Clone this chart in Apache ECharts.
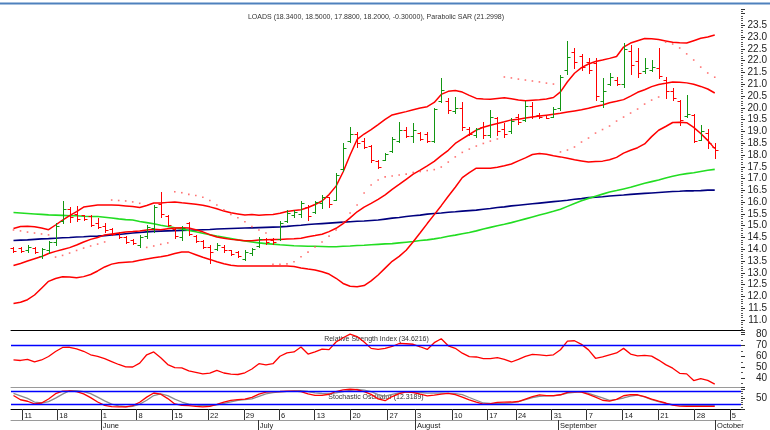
<!DOCTYPE html>
<html><head><meta charset="utf-8">
<script src="https://cdn.jsdelivr.net/npm/echarts@6/dist/echarts.min.js"></script>
<style>html,body{margin:0;padding:0;background:#fff}#c{width:770px;height:430px}</style>
</head><body><div id="c"></div>
<script>
// ---------- data ----------
const opens = [14.05,14.05,13.95,14.05,13.72,13.95,14.30,15.20,15.70,15.50,
15.45,15.40,15.10,15.00,14.85,14.70,14.50,14.40,14.20,14.55,
14.90,15.90,15.40,14.85,14.50,15.10,14.55,14.35,14.10,14.00,
14.10,13.95,13.90,13.60,13.85,14.15,14.45,14.40,14.45,15.20,
15.45,15.50,15.80,15.60,15.95,16.20,16.10,17.40,18.60,18.90,
18.60,18.40,17.75,17.80,18.15,18.60,19.05,18.80,18.95,18.90,
18.60,20.30,20.30,19.85,20.00,19.10,18.85,19.20,18.85,19.55,
19.10,19.00,19.60,19.50,20.10,19.70,19.68,19.62,20.00,21.60,
22.35,22.20,21.95,21.90,20.30,21.00,21.20,21.00,22.40,22.00,
21.55,21.60,21.70,21.20,20.70,20.30,19.65,19.70,18.65,18.95,
18.34];
const highs = [14.09,14.09,14.18,14.10,14.05,14.35,15.10,16.05,15.80,15.85,
15.45,15.45,15.33,15.10,14.90,14.73,14.56,14.43,14.60,15.03,
15.88,16.43,15.45,14.90,14.99,15.16,14.60,14.40,14.18,14.26,
14.18,13.97,13.92,13.97,14.05,14.50,14.48,14.48,15.20,15.67,
15.67,16.05,15.88,16.05,16.30,16.22,17.24,18.50,19.19,18.98,
18.72,18.42,17.79,18.08,18.76,19.40,19.19,19.36,18.98,18.98,
20.00,21.27,20.42,20.46,20.25,19.19,19.15,19.40,19.91,19.61,
19.36,19.55,19.75,20.30,20.25,19.77,19.70,20.04,21.40,22.84,
22.54,22.30,22.10,22.12,21.27,21.48,21.30,22.75,22.65,22.54,
22.10,22.05,22.53,21.30,20.85,20.33,20.55,19.75,19.27,19.10,
18.50];
const lows = [13.88,13.88,13.88,13.84,13.65,13.85,14.20,15.10,15.15,15.20,
15.25,15.00,14.90,14.73,14.60,14.48,14.26,14.22,14.10,14.48,
14.73,15.37,15.00,14.48,14.39,14.60,14.30,14.05,13.42,13.97,
13.88,13.76,13.67,13.55,13.76,14.10,14.22,14.22,14.39,15.16,
15.37,15.37,15.24,15.54,15.75,15.80,16.09,17.32,18.55,18.34,
18.30,17.70,17.45,17.79,18.13,18.55,18.76,18.55,18.64,18.55,
18.55,20.25,19.78,19.78,19.06,18.85,18.76,18.72,18.76,18.85,
18.76,18.95,19.30,19.45,19.55,19.55,19.55,19.60,19.90,21.45,
21.69,21.60,21.50,20.33,20.04,20.97,20.95,20.90,21.45,21.30,
21.50,21.55,21.25,20.40,20.33,19.27,19.62,18.55,18.64,18.30,
17.88];
const closes = [13.93,13.92,14.10,13.90,14.00,14.30,15.00,15.70,15.35,15.30,
15.30,15.05,14.95,14.80,14.65,14.50,14.30,14.25,14.50,14.95,
15.80,15.50,15.05,14.55,14.90,14.65,14.35,14.10,13.90,14.20,
13.95,13.80,13.72,13.90,14.00,14.45,14.30,14.30,15.10,15.55,
15.60,15.95,15.40,16.00,16.20,15.90,17.15,18.30,18.90,18.50,
18.35,17.80,17.50,18.05,18.70,19.05,18.80,19.05,18.70,18.60,
19.95,20.75,19.90,20.00,19.20,18.90,19.10,18.85,19.60,19.00,
18.90,19.45,19.40,20.10,19.65,19.60,19.58,19.95,21.30,22.15,
21.95,21.75,21.60,20.50,20.70,21.32,21.00,22.50,21.80,21.50,
21.70,21.75,21.35,20.70,20.40,19.50,19.75,18.60,19.00,18.50,
18.20];
const sar = [14.82,14.78,14.73,14.69,14.65,14.61,13.67,13.74,13.84,13.95,
14.05,14.14,14.22,14.31,16.09,16.07,16.05,16.01,15.95,14.08,
14.14,14.21,14.27,16.44,16.40,16.33,16.28,16.21,16.07,15.88,
15.67,15.48,15.34,15.17,14.96,14.82,14.69,13.36,13.36,13.38,
13.47,13.68,13.88,14.10,14.31,14.56,14.82,15.16,15.54,15.88,
16.39,16.73,16.94,17.07,17.11,17.15,17.19,17.26,17.30,17.34,
17.38,17.49,17.70,17.92,18.11,18.25,18.38,18.49,18.59,18.68,
21.31,21.27,21.22,21.18,21.14,21.10,21.05,21.01,18.13,18.21,
18.34,18.55,18.72,18.93,19.08,19.23,19.44,19.61,19.78,19.95,
20.16,20.33,20.46,22.79,22.71,22.54,22.29,22.03,21.73,21.48,
21.2998];
const bbUpper = [14.88,14.97,14.98,14.96,14.90,14.83,15.03,15.24,15.43,15.60,
15.79,15.84,15.88,15.88,15.88,15.87,15.84,15.81,15.77,15.86,
15.96,15.96,15.99,16.01,15.97,15.94,15.91,15.87,15.80,15.72,
15.62,15.55,15.50,15.45,15.48,15.44,15.46,15.48,15.53,15.60,
15.65,15.68,15.77,15.90,16.05,16.32,16.68,17.28,18.00,18.66,
18.89,19.08,19.29,19.51,19.70,19.77,19.84,19.92,19.99,20.05,
20.23,20.57,20.70,20.74,20.67,20.53,20.40,20.38,20.37,20.40,
20.43,20.39,20.33,20.30,20.32,20.34,20.38,20.44,20.68,21.11,
21.47,21.71,21.86,21.97,22.03,22.10,22.18,22.58,22.75,22.85,
22.94,22.93,22.90,22.84,22.78,22.76,22.75,22.85,22.95,23.01,
23.09];
const bbMiddle = [13.31,13.40,13.50,13.60,13.69,13.82,13.91,13.99,14.07,14.18,
14.31,14.42,14.50,14.61,14.65,14.69,14.73,14.75,14.78,14.82,
14.85,14.83,14.87,14.90,14.91,14.90,14.83,14.74,14.62,14.52,
14.47,14.42,14.39,14.36,14.36,14.39,14.40,14.41,14.42,14.44,
14.45,14.47,14.53,14.58,14.64,14.75,14.89,15.09,15.33,15.59,
15.79,15.95,16.12,16.31,16.54,16.75,16.97,17.19,17.36,17.54,
17.73,17.97,18.20,18.49,18.68,18.87,19.06,19.18,19.26,19.34,
19.41,19.49,19.52,19.57,19.61,19.65,19.69,19.73,19.77,19.82,
19.87,19.92,19.98,20.06,20.12,20.22,20.28,20.35,20.50,20.66,
20.77,20.90,20.99,21.04,21.10,21.09,21.06,21.00,20.91,20.80,
20.63];
const bbLower = [11.70,11.75,11.86,12.06,12.35,12.64,12.76,12.83,12.82,12.79,
12.84,12.93,13.08,13.25,13.37,13.43,13.45,13.47,13.53,13.59,
13.64,13.68,13.74,13.82,13.88,13.88,13.77,13.66,13.57,13.47,
13.39,13.32,13.29,13.29,13.29,13.29,13.29,13.29,13.29,13.29,
13.27,13.21,13.16,13.12,13.05,12.95,12.77,12.55,12.43,12.41,
12.46,12.66,12.91,13.20,13.49,13.70,13.96,14.32,14.70,15.09,
15.47,15.85,16.25,16.63,17.04,17.25,17.44,17.44,17.44,17.48,
17.54,17.62,17.75,17.88,18.02,18.06,18.03,17.97,17.92,17.86,
17.80,17.75,17.70,17.72,17.74,17.80,17.90,18.08,18.20,18.31,
18.47,18.78,19.05,19.21,19.38,19.39,19.37,19.17,18.91,18.62,
18.27];
const maGreen = [15.56,15.54,15.52,15.50,15.48,15.46,15.45,15.44,15.42,15.42,
15.40,15.39,15.39,15.36,15.33,15.29,15.26,15.24,15.18,15.13,
15.08,15.02,14.97,14.91,14.86,14.80,14.74,14.68,14.62,14.56,
14.51,14.46,14.40,14.35,14.31,14.27,14.24,14.22,14.19,14.17,
14.15,14.14,14.13,14.13,14.12,14.11,14.11,14.13,14.14,14.16,
14.17,14.19,14.21,14.23,14.24,14.27,14.30,14.33,14.37,14.40,
14.44,14.49,14.55,14.60,14.66,14.71,14.78,14.86,14.93,15.00,
15.06,15.13,15.21,15.29,15.37,15.45,15.53,15.61,15.70,15.82,
15.94,16.06,16.16,16.25,16.34,16.43,16.49,16.56,16.63,16.72,
16.80,16.87,16.94,17.02,17.10,17.16,17.21,17.25,17.30,17.35,
17.39];
const maNavy = [14.37,14.39,14.40,14.42,14.44,14.45,14.47,14.49,14.50,14.52,
14.53,14.55,14.56,14.58,14.61,14.63,14.66,14.69,14.71,14.74,
14.76,14.77,14.78,14.79,14.80,14.81,14.82,14.83,14.84,14.86,
14.87,14.88,14.89,14.90,14.91,14.92,14.93,14.94,14.95,14.97,
15.00,15.02,15.05,15.07,15.09,15.11,15.13,15.15,15.17,15.19,
15.20,15.22,15.24,15.28,15.32,15.35,15.39,15.42,15.45,15.49,
15.52,15.54,15.57,15.59,15.62,15.64,15.66,15.70,15.73,15.77,
15.80,15.84,15.87,15.90,15.93,15.96,15.99,16.02,16.05,16.08,
16.12,16.15,16.19,16.21,16.23,16.26,16.28,16.30,16.33,16.35,
16.37,16.39,16.41,16.43,16.45,16.46,16.48,16.48,16.49,16.51,
16.51];
const rsi = [56.88,56.24,57.25,54.86,56.70,59.91,64.50,68.17,68.35,66.97,
64.68,61.47,59.91,57.89,55.23,52.57,50.37,50.28,53.76,61.47,
64.04,58.72,52.48,49.72,49.54,46.70,45.41,43.94,44.68,47.25,
44.77,43.76,43.39,44.95,48.44,53.30,52.20,53.30,60.09,63.21,
64.04,68.62,62.11,64.13,66.70,66.15,73.21,77.06,80.46,78.17,
73.12,67.34,66.51,67.34,69.08,71.83,71.56,71.10,68.81,66.33,
72.57,76.15,69.72,67.43,62.94,59.72,59.45,57.98,57.98,58.90,
57.25,54.86,57.34,60.09,61.83,61.38,60.73,61.47,66.06,74.04,
74.31,71.01,65.96,58.26,59.45,61.28,63.12,67.34,62.11,60.46,
60.92,60.28,56.61,52.48,49.17,44.50,43.94,37.80,39.63,37.98,
34.6216];
const stochK = [61.7,42.4,35.6,23.5,27.5,46.0,70.3,82.0,82.9,79.7,
69.4,52.3,32.0,16.3,10.9,9.5,9.5,15.4,31.1,54.5,
73.4,68.0,47.8,23.0,16.7,15.8,12.2,9.5,12.2,21.2,
32.0,39.2,42.8,45.1,53.6,68.0,77.0,79.7,80.2,81.5,
82.0,80.2,69.4,62.6,62.2,67.6,80.2,87.4,90.5,88.3,
79.7,67.1,46.0,37.9,57.2,70.7,78.8,75.7,68.0,60.4,
63.5,68.0,71.6,66.2,54.5,41.5,31.1,22.1,24.8,30.2,
31.1,32.0,34.3,45.5,56.8,64.4,61.7,61.7,65.3,76.1,
79.7,77.5,66.7,54.1,40.1,36.1,44.2,60.8,66.2,65.3,
56.8,45.5,35.6,27.5,17.6,13.1,12.2,12.2,12.2,12.2,
12.3189];
const stochD = [71.2,60.4,48.7,32.0,27.5,33.8,50.0,68.0,83.8,84.2,
79.7,70.3,54.5,37.0,22.1,14.0,10.4,12.2,22.6,40.1,
61.7,69.8,61.3,45.5,32.0,22.6,17.6,15.4,15.4,19.4,
25.7,32.9,40.1,42.8,46.4,57.7,68.9,74.8,78.4,81.1,
82.9,83.8,80.2,73.9,71.2,69.4,73.9,79.3,85.1,90.1,
86.5,79.3,65.8,59.5,67.6,73.9,77.5,78.4,75.7,72.5,
72.5,72.5,72.1,70.3,65.8,52.7,40.1,27.5,25.7,24.4,
25.7,28.0,33.4,42.8,52.7,57.7,60.4,60.4,64.9,73.0,
76.6,79.3,71.6,61.7,50.9,39.7,44.6,50.5,59.5,63.5,
55.9,43.3,34.3,25.3,20.3,18.1,15.8,15.4,15.4,15.4,
15.4];
const rsiLevels = [70];
const stochLevels = [80, 20];
// date axis: tick labels and their positions (in bar-index units)
const weekLabels = ['11','18','1','8','15','22','29','6','13','20','27','3','10','17','24','31','7','14','21','28','5'];
const weekPos = [1.2,6.2,12.4,17.5,22.6,27.7,32.8,37.8,42.9,48.0,53.3,57.2,62.5,67.5,71.6,76.7,81.7,86.8,91.9,97.1,102.1];
const monthLabels = ['June','July','August','September','October'];
const monthPos = [12.4,34.8,57.2,77.6,100.0];
const symbol = 'LOADS';

// ---------- layout helpers ----------
function hasFont(name){
  const c=document.createElement('canvas').getContext('2d');
  c.font='20px monospace'; const w1=c.measureText('LOADS 18.3400 abc').width;
  c.font='20px "'+name+'", monospace'; const w2=c.measureText('LOADS 18.3400 abc').width;
  return Math.abs(w1-w2)>0.1;
}
const NARROW = hasFont('Liberation Sans Narrow');
const smallFamily = NARROW ? '"Liberation Sans Narrow", "Arial Narrow", sans-serif' : '"Liberation Sans", Arial, sans-serif';
const smallSize = NARROW ? 8.5 : 7;
const axisFamily = '"Liberation Sans", Arial, sans-serif';

const X_MIN = -0.355, X_MAX = 103.745, STEP = 0.1;
const FINE = Array.from({length: Math.round((X_MAX - X_MIN) / STEP) + 1}, (_, k) => String(k));
const toFine = p => Math.round((p - X_MIN) / STEP);
const weekMap = {}; weekPos.forEach((p, j) => { weekMap[toFine(p)] = weekLabels[j]; });
const monthMap = {}; monthPos.forEach((p, j) => { monthMap[toFine(p)] = monthLabels[j]; });

const n = closes.length;
const ohlc = closes.map((c, i) => [i, opens[i], highs[i], lows[i], c]);
const pair = arr => arr.map((v, i) => [i, v]);
const last = n - 1;
const titleText = symbol + ' (' + opens[last].toFixed(4) + ', ' + highs[last].toFixed(4) + ', ' + lows[last].toFixed(4) + ', ' +
  closes[last].toFixed(4) + ', ' + (closes[last] - closes[last-1]).toFixed(5) + '), Parabolic SAR (' + sar[last].toFixed(4) + ')';
const rsiText = 'Relative Strength Index (' + rsi[last].toFixed(4) + ')';
const stochText = 'Stochastic Oscillator (' + stochK[last].toFixed(4) + ')';

const GL = 11, GR = 27;
const hiddenX = (gi, extra) => Object.assign({
  type: 'value', gridIndex: gi, min: X_MIN, max: X_MAX,
  axisLabel: {show: false}, axisTick: {show: false}, splitLine: {show: false},
  axisLine: {show: false, onZero: false}
}, extra || {});
const yCommon = (gi, min, max, interval, minorSplit, hide) => ({
  type: 'value', gridIndex: gi, position: 'right', min, max, interval, scale: false,
  axisLine: {show: false, onZero: false},
  axisTick: {show: true, length: 4, lineStyle: {color: '#333'}},
  minorTick: {show: true, splitNumber: minorSplit, length: 2, lineStyle: {color: '#555'}},
  splitLine: {show: false}, minorSplitLine: {show: false},
  axisLabel: {
    align: 'right', margin: 26, fontSize: 10, fontFamily: axisFamily, color: '#222',
    formatter: v => hide(v) ? '' : (interval < 1 ? v.toFixed(1) : String(Math.round(v)))
  }
});

const option = {
  animation: false,
  backgroundColor: '#fff',
  grid: [
    {left: GL, right: GR, top: 8.87, height: 322.9},
    {left: GL, right: GR, top: 330.2, height: 58.9},
    {left: GL, right: GR, top: 387.2, height: 22.2}
  ],
  xAxis: [
    hiddenX(0),
    hiddenX(1, {position: 'top', axisLine: {show: true, onZero: false, lineStyle: {color: '#000', width: 1}}}),
    hiddenX(2, {position: 'top', axisLine: {show: true, onZero: false, lineStyle: {color: '#9a9a9a', width: 1}}}),
    {
      type: 'category', gridIndex: 2, data: FINE, boundaryGap: false, position: 'bottom',
      axisLine: {show: true, onZero: false, lineStyle: {color: '#000', width: 1}},
      axisTick: {show: true, interval: i => (i in weekMap), length: 11, lineStyle: {color: '#333'}},
      axisLabel: {interval: i => (i in weekMap), formatter: (v, i) => weekMap[i] || '', align: 'left',
        margin: 3, padding: [0, 0, 0, 2], fontSize: smallSize + 0.5, fontFamily: smallFamily, color: '#222'},
      splitLine: {show: false}
    },
    {
      type: 'category', gridIndex: 2, data: FINE, boundaryGap: false, position: 'bottom', offset: 11,
      axisLine: {show: true, onZero: false, lineStyle: {color: '#9a9a9a', width: 1}},
      axisTick: {show: true, interval: i => (i in monthMap), length: 10, lineStyle: {color: '#333'}},
      axisLabel: {interval: i => (i in monthMap), formatter: (v, i) => monthMap[i] || '', align: 'left',
        margin: 2, padding: [0, 0, 0, 2], fontSize: smallSize + 0.5, fontFamily: smallFamily, color: '#222'},
      splitLine: {show: false}
    }
  ],
  yAxis: [
    yCommon(0, 10.5, 24.2, 0.5, 5, v => v < 10.9 || v > 23.6),
    yCommon(1, 30, 84, 10, 2, v => v < 35),
    yCommon(2, 0, 100, 50, 5, v => v !== 50)
  ],
  graphic: [
    {type: 'rect', shape: {x: 0, y: 2.5, width: 770, height: 2}, style: {fill: '#4f81bd'}, z: 100},
    {type: 'text', x: 376, y: 17, z: 100, style: {text: titleText, fontSize: smallSize, fontFamily: smallFamily, fill: '#333', align: 'center', verticalAlign: 'middle'}},
    {type: 'text', x: 376.5, y: 339, z: 0, style: {text: rsiText, fontSize: smallSize, fontFamily: smallFamily, fill: '#333', align: 'center', verticalAlign: 'middle'}},
    {type: 'text', x: 376, y: 397.5, z: 0, style: {text: stochText, fontSize: smallSize, fontFamily: smallFamily, fill: '#333', align: 'center', verticalAlign: 'middle'}}
  ],
  series: [
    {type: 'line', xAxisIndex: 0, yAxisIndex: 0, data: pair(maNavy), showSymbol: false, lineStyle: {color: '#00007f', width: 1.6}, z: 2},
    {type: 'line', xAxisIndex: 0, yAxisIndex: 0, data: pair(maGreen), showSymbol: false, lineStyle: {color: '#22dd22', width: 1.6}, z: 2},
    {type: 'line', xAxisIndex: 0, yAxisIndex: 0, data: pair(bbUpper), showSymbol: false, lineStyle: {color: '#ff0000', width: 1.5}, z: 3},
    {type: 'line', xAxisIndex: 0, yAxisIndex: 0, data: pair(bbMiddle), showSymbol: false, lineStyle: {color: '#ff0000', width: 1.5}, z: 3},
    {type: 'line', xAxisIndex: 0, yAxisIndex: 0, data: pair(bbLower), showSymbol: false, lineStyle: {color: '#ff0000', width: 1.5}, z: 3},
    {type: 'scatter', xAxisIndex: 0, yAxisIndex: 0, data: pair(sar), symbol: 'rect', symbolSize: 1.6, itemStyle: {color: '#ff5050'}, z: 3},
    {
      type: 'custom', xAxisIndex: 0, yAxisIndex: 0, data: ohlc, z: 4,
      encode: {x: 0, y: [1, 2, 3, 4]},
      renderItem: function (params, api) {
        const i = api.value(0), o = api.value(1), h = api.value(2), l = api.value(3), c = api.value(4);
        const pH = api.coord([i, h]), pL = api.coord([i, l]), pO = api.coord([i, o]), pC = api.coord([i, c]);
        const x = Math.round(pH[0]) + 0.5;
        const yo = Math.round(pO[1]) + 0.5, yc = Math.round(pC[1]) + 0.5;
        const color = c >= o ? '#139613' : '#ff0000';
        const st = {stroke: color, lineWidth: 1};
        return {type: 'group', children: [
          {type: 'line', shape: {x1: x, y1: Math.round(pH[1]), x2: x, y2: Math.round(pL[1]) + 1}, style: st},
          {type: 'line', shape: {x1: x - 3, y1: yo, x2: x, y2: yo}, style: st},
          {type: 'line', shape: {x1: x, y1: yc, x2: x + 3, y2: yc}, style: st}
        ]};
      }
    },
    {type: 'line', xAxisIndex: 1, yAxisIndex: 1, data: pair(rsi), showSymbol: false, lineStyle: {color: '#ff0000', width: 1.3}, z: 3,
      markLine: {silent: true, symbol: 'none', label: {show: false}, lineStyle: {color: '#0000ff', type: 'solid', width: 1.3},
        data: rsiLevels.map(v => ({yAxis: v}))}},
    {type: 'line', xAxisIndex: 2, yAxisIndex: 2, data: pair(stochD), showSymbol: false, lineStyle: {color: '#8c8c8c', width: 1.3}, z: 3,
      markLine: {silent: true, symbol: 'none', label: {show: false}, lineStyle: {color: '#0000ff', type: 'solid', width: 1.3},
        data: stochLevels.map(v => ({yAxis: v}))}},
    {type: 'line', xAxisIndex: 2, yAxisIndex: 2, data: pair(stochK), showSymbol: false, lineStyle: {color: '#ff0000', width: 1.3}, z: 4}
  ]
};
const chart = echarts.init(document.getElementById('c'), null, {renderer: 'canvas'});
chart.setOption(option);
</script>
</body></html>
